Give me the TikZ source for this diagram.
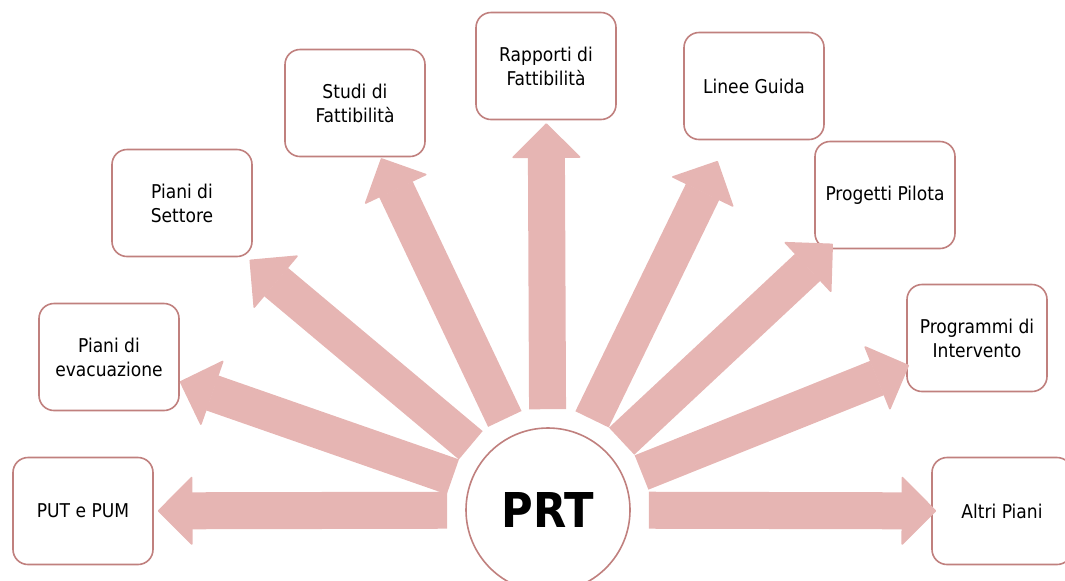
\documentclass[tikz,border=0pt]{standalone}
\usepackage{fontspec}
\setmainfont{DejaVu Sans Condensed}
\usetikzlibrary{arrows.meta}
\definecolor{arrowpink}{RGB}{230,181,179}
\definecolor{boxline}{RGB}{192,128,126}

\begin{document}
\begin{tikzpicture}[x=0.5pt, y=-0.5pt,
  itembox/.style={draw=boxline, line width=0.8pt, rounded corners=7.5pt, fill=white, align=center,
    minimum width=70pt, minimum height=53.5pt, inner sep=2pt, font=\fontsize{9.5}{12}\selectfont},
  hubnode/.style={draw=boxline, line width=0.8pt, circle, fill=white, minimum size=82pt, inner sep=0pt,
    font=\fontsize{24}{28}\selectfont\bfseries},
  blockarrow/.style={arrowpink, line width=18.5pt, shorten <=9pt,
    -{Triangle[width=35pt, length=17.5pt, line width=0.8pt, round]}}
]
  \useasboundingbox (0,0) rectangle (1065,580);

  \node[hubnode] (prt) at (548,510) {PRT};

  \node[itembox] (put) at (83,511) {PUT e PUM};
  \node[itembox] (evac) at (109,357) {Piani di\\evacuazione};
  \node[itembox] (settore) at (182,203) {Piani di\\Settore};
  \node[itembox] (studi) at (355,103) {Studi di\\Fattibilità};
  \node[itembox] (rapporti) at (546,66) {Rapporti di\\Fattibilità};
  \node[itembox] (linee) at (754,86) {Linee Guida};
  \node[itembox] (pilota) at (885,195) {Progetti Pilota};
  \node[itembox] (programmi) at (977,338) {Programmi di\\Intervento};
  \node[itembox] (altri) at (1002,511) {Altri Piani};

  \draw[blockarrow, shorten >=2pt] (prt) -- (put);
  \draw[blockarrow] (prt) -- (evac);
  \draw[blockarrow, shorten >=2pt] (prt) -- (settore);
  \draw[blockarrow, shorten >=0.5pt] (prt) -- (studi);
  \draw[blockarrow, shorten >=1.5pt] (prt) -- (rapporti);
  \draw[blockarrow, shorten >=11.5pt] (prt) -- (linee);
  \draw[blockarrow, shorten >=-4pt] (prt) -- (pilota);
  \draw[blockarrow, shorten >=-1.5pt] (prt) -- (programmi);
  \draw[blockarrow, shorten >=-2.5pt] (prt) -- (altri);
\end{tikzpicture}
\end{document}
